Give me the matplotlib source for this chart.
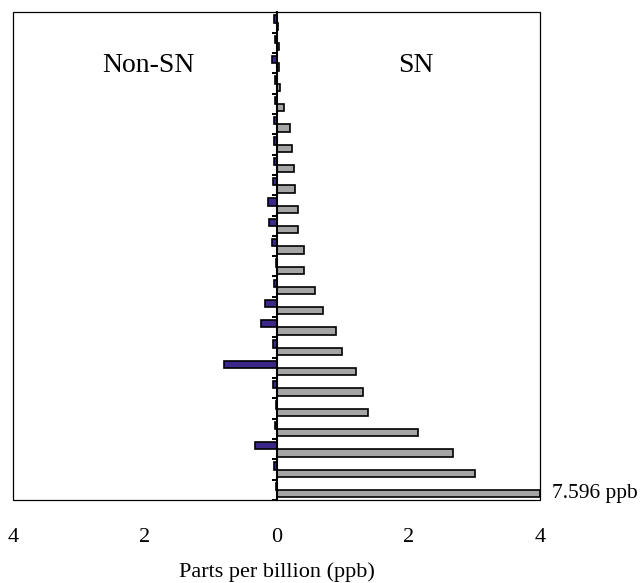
import matplotlib
matplotlib.use("Agg")
import matplotlib.pyplot as plt
from matplotlib.patches import Rectangle
import numpy as np

plt.rcParams['font.family'] = ['Liberation Serif', 'DejaVu Serif']

# Data (ppb), top to bottom
non_sn = [0.04, 0.025, 0.065, 0.02, 0.02, 0.045, 0.04, 0.045, 0.055, 0.13, 0.11, 0.065,
          0.015, 0.045, 0.17, 0.23, 0.055, 0.79, 0.055, 0.01, 0.03, 0.33, 0.045, 0.015]
sn = [0.03, 0.035, 0.045, 0.05, 0.11, 0.21, 0.23, 0.27, 0.28, 0.32, 0.33, 0.41,
      0.41, 0.59, 0.71, 0.91, 1.0, 1.21, 1.32, 1.39, 2.15, 2.68, 3.02, 7.596]
xtick_vals = [-4, -2, 0, 2, 4]
xtick_labels = ['4', '2', '0', '2', '4']
xmax = 4

n = len(sn)
idx = np.arange(n)

fig = plt.figure(figsize=(6.41, 5.83), dpi=100)
ax = fig.add_axes([13/641, (583-500)/583, (540-13)/641, (500-12.3)/583])

h = 0.36
ax.barh(idx + 0.33, [-v for v in non_sn], height=h, color='#3B2888',
        edgecolor='black', linewidth=1.2, zorder=3)
sn_plot = [min(v, xmax) for v in sn]
ax.barh(idx + 0.69, sn_plot, height=h, color='#A5A5A5',
        edgecolor='black', linewidth=1.2, zorder=3)

ax.set_xlim(-xmax, xmax)
ax.set_ylim(n, 0)

# left spine at zero acts as category axis
for s in ['top', 'right', 'bottom']:
    ax.spines[s].set_visible(False)
ax.spines['left'].set_position(('data', 0))
ax.spines['left'].set_linewidth(1.5)
ax.spines['left'].set_zorder(4)
ax.add_patch(Rectangle((0, 0), 1, 1, transform=ax.transAxes, fill=False,
                       edgecolor='black', linewidth=0.9, clip_on=False, zorder=5))

ax.set_yticks(np.arange(1, n + 1))
ax.set_yticklabels([])
ax.tick_params(axis='y', direction='out', length=3.3, width=1.4)

ax.set_xticks(xtick_vals)
ax.set_xticklabels(xtick_labels, fontsize=16)
ax.tick_params(axis='x', length=0, pad=20)
ax.set_xlabel('Parts per billion (ppb)', fontsize=16, labelpad=11)

ax.text(0.256, 0.89, 'Non-SN', transform=ax.transAxes, fontsize=20,
        ha='center', va='center')
ax.text(0.765, 0.89, 'SN', transform=ax.transAxes, fontsize=20,
        ha='center', va='center')

ax.annotate(f'{sn[-1]:.3f} ppb', xy=(xmax, n - 1 + 0.69), xytext=(9, 0),
            textcoords='offset points', fontsize=15.5, ha='left', va='center',
            annotation_clip=False)

fig.savefig('out.png', dpi=100)
